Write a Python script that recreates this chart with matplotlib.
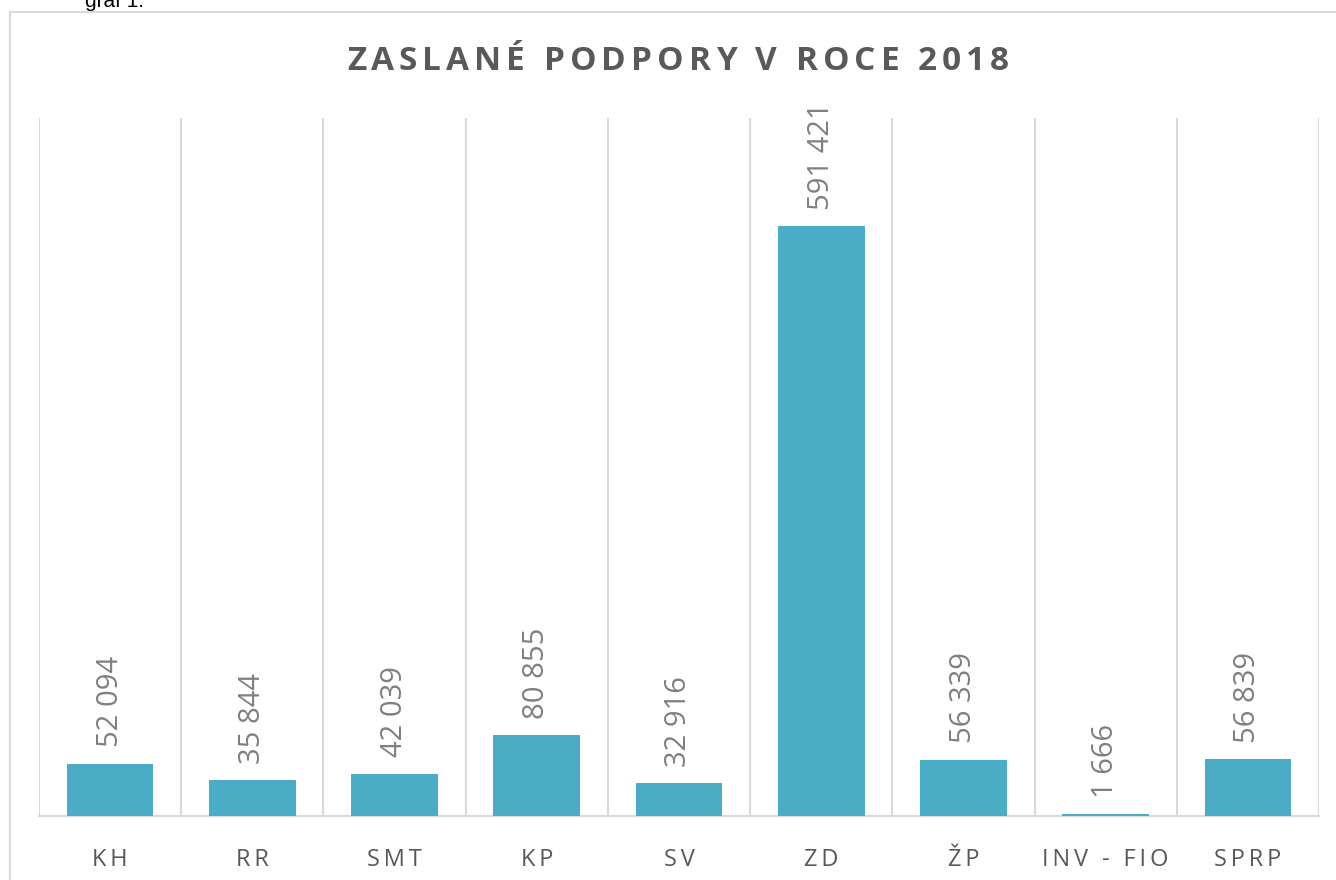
import matplotlib.pyplot as plt
from matplotlib.patches import Rectangle

categories = ["KH", "RR", "SMT", "KP", "SV", "ZD", "ŽP", "INV - FIO", "SPRP"]
values = [52094, 35844, 42039, 80855, 32916, 591421, 56339, 1666, 56839]
title = "ZASLANÉ PODPORY V ROCE 2018"

bar_color = "#4BACC6"
grid_color = "#D9D9D9"
label_color = "#7F7F7F"
text_color = "#595959"

plt.rcParams["font.family"] = ["Open Sans", "DejaVu Sans"]


def spaced(s, sep):
    return sep.join(s)


def fmt(v):
    return f"{v:,}".replace(",", " ")


fig = plt.figure(figsize=(13.36, 8.80), dpi=100)
fig.patch.set_facecolor("white")

# outer chart frame, runs off the right and bottom edge
fig.add_artist(Rectangle((10 / 1336, -0.1), 1.2, 0.1 + (880 - 12) / 880,
                         transform=fig.transFigure, fill=False,
                         edgecolor=grid_color, linewidth=1.5, clip_on=False))

fig.text(85 / 1336, 1 - 7 / 880, "graf 1:", family=["Liberation Sans"],
         fontsize=15, va="baseline", ha="left", color="black")

ax = fig.add_axes([39 / 1336, 64 / 880, 1280 / 1336, (816 - 118) / 880])
x = range(len(categories))
bars = ax.bar(x, values, width=0.61, color=bar_color, zorder=3)
ax.set_xlim(-0.5, len(categories) - 0.5)
ax.set_ylim(0, 700000)

# vertical gridlines between categories
for b in range(len(categories) + 1):
    ax.axvline(b - 0.5, color=grid_color, linewidth=1.5, zorder=1)

for s in ["top", "right", "left"]:
    ax.spines[s].set_visible(False)
ax.spines["bottom"].set_color(grid_color)
ax.spines["bottom"].set_linewidth(1.5)
ax.set_yticks([])
ax.set_xticks(list(x))
ax.set_xticklabels([spaced(c, "\u2009") for c in categories],
                   fontsize=17, color=text_color)
ax.tick_params(axis="x", length=0, pad=23)

for rect, v in zip(bars, values):
    ax.annotate(fmt(v), (rect.get_x() + rect.get_width() / 2, v),
                xytext=(0, 12), textcoords="offset points",
                rotation=90, ha="center", va="bottom",
                fontsize=21, color=label_color)

# title with letter spacing: place char by char
renderer = fig.canvas.get_renderer()
tkw = dict(fontsize=24, fontweight="bold", color=text_color)
gap = 5
widths = []
for ch in title:
    t1 = fig.text(0, 0, "x" + ch + "x", **tkw)
    t2 = fig.text(0, 0, "xx", **tkw)
    widths.append(t1.get_window_extent(renderer).width
                  - t2.get_window_extent(renderer).width)
    t1.remove()
    t2.remove()
total = sum(widths) + gap * (len(title) - 1)
xpos = 678 - total / 2
for ch, w in zip(title, widths):
    fig.text(xpos / 1336, 1 - 61 / 880, ch, ha="left", va="center", **tkw)
    xpos += w + gap

fig.savefig("out.png", dpi=100)
